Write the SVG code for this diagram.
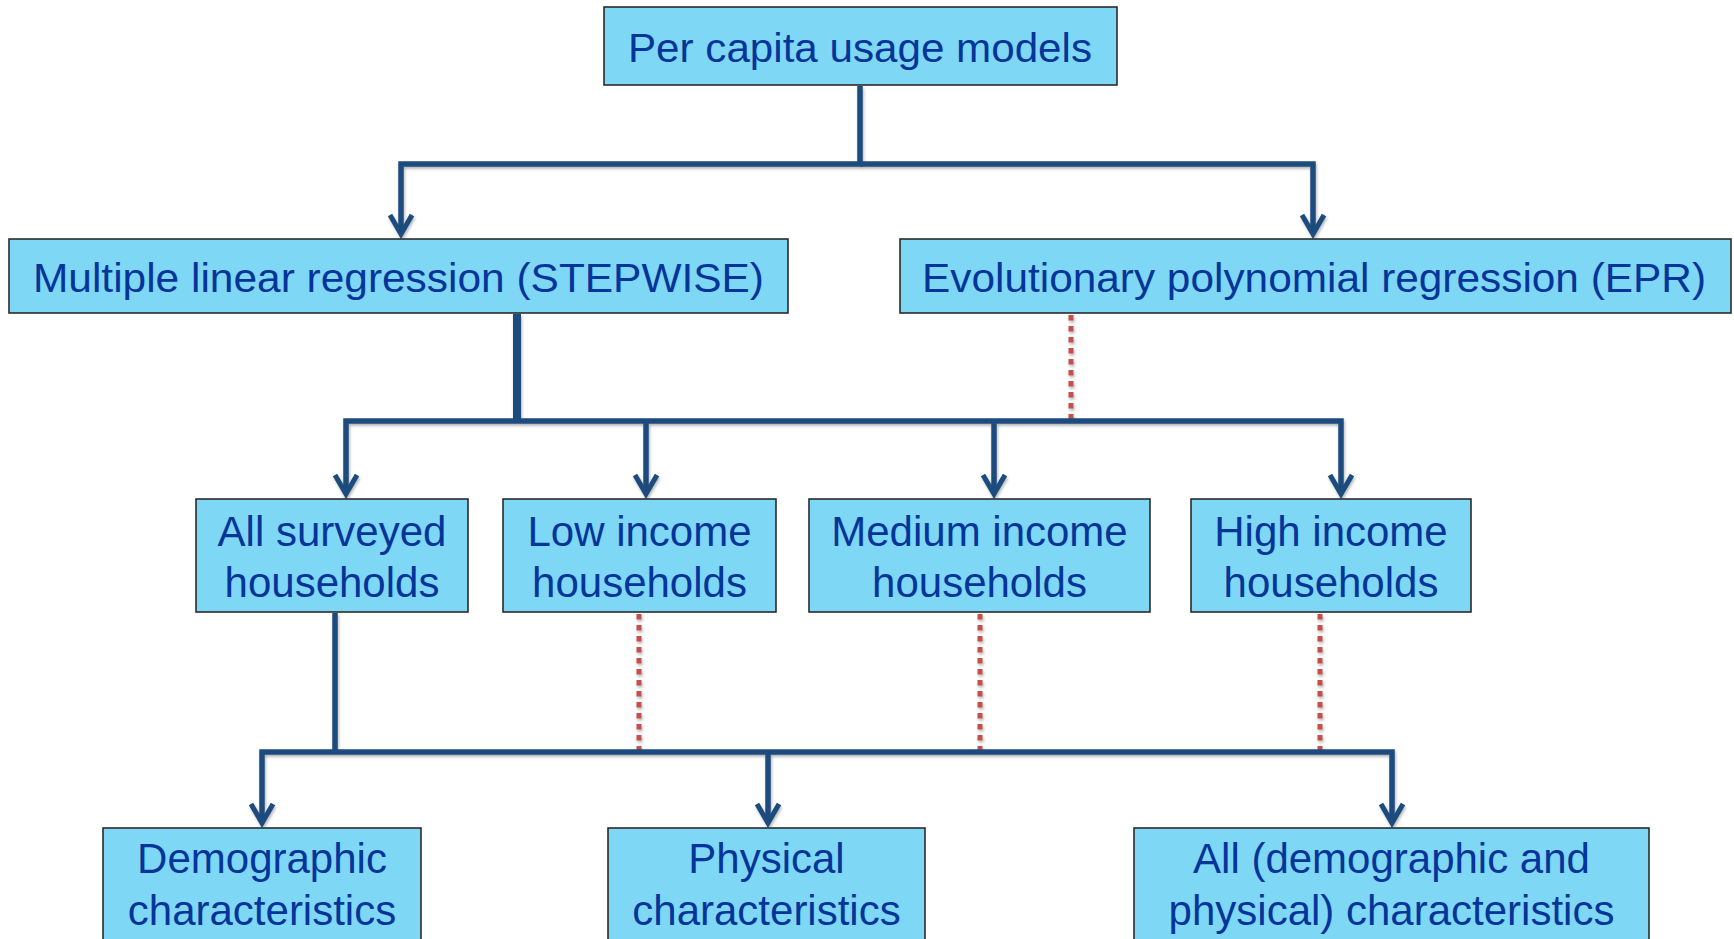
<svg xmlns="http://www.w3.org/2000/svg" width="1734" height="939" viewBox="0 0 1734 939">
<defs>
<style>
.box{fill:#7FD7F6;stroke:#2b2b2b;stroke-width:1.6}
.t{font-family:"Liberation Sans",Arial,sans-serif;fill:#06359A;text-anchor:middle}
.t41{font-size:41px}
.t42{font-size:42px}
.ln{fill:none;stroke:#1F4B7E;stroke-width:5.5;stroke-linejoin:miter}
.arr{marker-end:url(#ah)}
.dot{fill:none;stroke:#C4504C;stroke-width:5;stroke-dasharray:5.5 5.5}
</style>
<marker id="ah" markerUnits="userSpaceOnUse" markerWidth="40" markerHeight="40" viewBox="-30 -20 40 40" refX="0" refY="0" orient="auto" overflow="visible">
<path d="M-19,-11 L0,0 L-19,11" fill="none" stroke="#1F4B7E" stroke-width="5" stroke-linejoin="miter"/>
</marker>
<filter id="sh" x="-5%" y="-5%" width="110%" height="120%">
<feDropShadow dx="1" dy="2" stdDeviation="1.5" flood-color="#000" flood-opacity="0.3"/>
</filter>
</defs>
<rect width="1734" height="939" fill="#ffffff"/>

<g id="connectors" filter="url(#sh)">
<path class="ln arr" d="M860,86 V164 H401 V234"/>
<path class="ln arr" d="M860,164 H1313 V234"/>
<path class="ln" d="M517,314 V421" style="stroke-width:8"/>
<path class="dot" d="M1071,315 V419"/>
<path class="ln arr" d="M517,421 H346 V494"/>
<path class="ln arr" d="M517,421 H1341 V494"/>
<path class="ln arr" d="M646,421 V494"/>
<path class="ln arr" d="M994,421 V494"/>
<path class="dot" d="M639,614 V750"/>
<path class="dot" d="M980,614 V750"/>
<path class="dot" d="M1320,614 V750"/>
<path class="ln" d="M335,613 V752"/>
<path class="ln arr" d="M335,752 H262 V823"/>
<path class="ln arr" d="M335,752 H1392 V823"/>
<path class="ln arr" d="M768,752 V823"/>
</g>

<g id="n-per-capita">
<rect class="box" x="604" y="7" width="513" height="78"/>
<text class="t t41" x="860" y="62" textLength="464" lengthAdjust="spacingAndGlyphs">Per capita usage models</text>
</g>
<g id="n-stepwise">
<rect class="box" x="9" y="239" width="779" height="74"/>
<text class="t t41" x="398.5" y="292" textLength="731" lengthAdjust="spacingAndGlyphs">Multiple linear regression (STEPWISE)</text>
</g>
<g id="n-epr">
<rect class="box" x="900" y="239" width="831" height="74"/>
<text class="t t41" x="1314" y="292" textLength="784" lengthAdjust="spacingAndGlyphs">Evolutionary polynomial regression (EPR)</text>
</g>
<g id="n-all-households">
<rect class="box" x="196" y="499" width="272" height="113"/>
<text class="t t42" x="332" y="546">All surveyed</text>
<text class="t t42" x="332" y="597">households</text>
</g>
<g id="n-low">
<rect class="box" x="503" y="499" width="273" height="113"/>
<text class="t t42" x="639.5" y="546">Low income</text>
<text class="t t42" x="639.5" y="597">households</text>
</g>
<g id="n-medium">
<rect class="box" x="809" y="499" width="341" height="113"/>
<text class="t t42" x="979.5" y="546">Medium income</text>
<text class="t t42" x="979.5" y="597">households</text>
</g>
<g id="n-high">
<rect class="box" x="1191" y="499" width="280" height="113"/>
<text class="t t42" x="1331" y="546">High income</text>
<text class="t t42" x="1331" y="597">households</text>
</g>
<g id="n-demographic">
<rect class="box" x="103" y="828" width="318" height="125"/>
<text class="t t42" x="262" y="873">Demographic</text>
<text class="t t42" x="262" y="925">characteristics</text>
</g>
<g id="n-physical">
<rect class="box" x="608" y="828" width="317" height="125"/>
<text class="t t42" x="766.5" y="873">Physical</text>
<text class="t t42" x="766.5" y="925">characteristics</text>
</g>
<g id="n-all-characteristics">
<rect class="box" x="1134" y="828" width="515" height="125"/>
<text class="t t42" x="1391.5" y="873">All (demographic and</text>
<text class="t t42" x="1391.5" y="925">physical) characteristics</text>
</g>
</svg>
